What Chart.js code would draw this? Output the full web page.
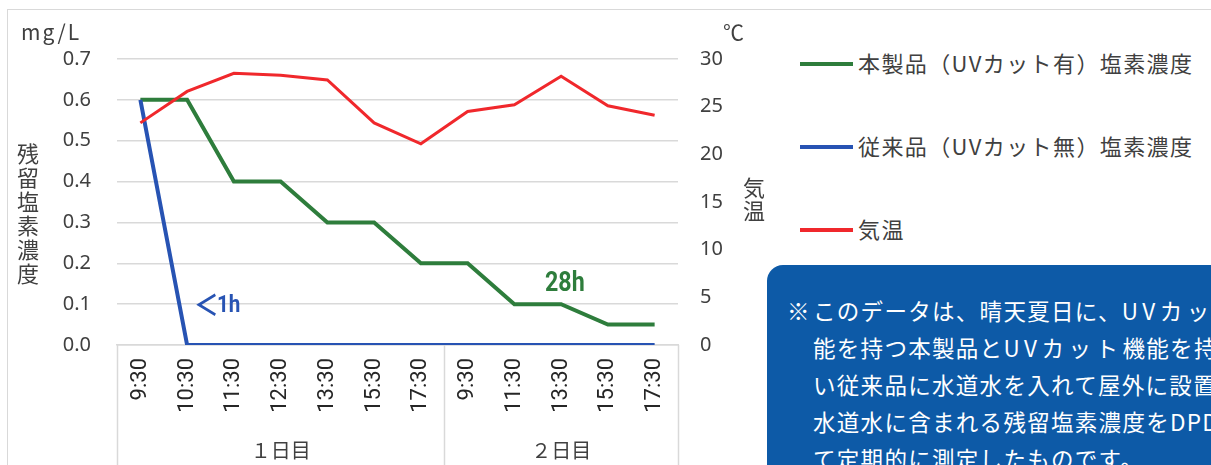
<!DOCTYPE html>
<html><head><meta charset="utf-8">
<script src="https://cdn.jsdelivr.net/npm/chart.js@4"></script>
<style>
html,body{margin:0;padding:0;background:#fff;width:1211px;height:465px;overflow:hidden;position:relative;font-family:"Noto Sans CJK JP","Noto Sans",sans-serif;color:#404040;}
#frame{position:absolute;left:7px;top:9px;width:1300px;height:600px;border:1.5px solid #d9d9d9;box-sizing:border-box;}
#wrap{position:absolute;left:0;top:0;width:760px;height:465px;}
.vt{position:absolute;writing-mode:vertical-rl;text-orientation:upright;font-size:22px;line-height:22px;color:#404040;}
.unit{position:absolute;font-size:21px;line-height:24px;color:#404040;}
#legend{position:absolute;left:800px;top:0;}
.li{position:absolute;left:0;white-space:nowrap;font-size:22px;letter-spacing:1.4px;line-height:30px;color:#404040;}
.li span.s{display:inline-block;width:53px;height:4.5px;vertical-align:middle;margin-right:5px;position:relative;top:-2px;}
#note{position:absolute;left:767px;top:265px;width:600px;height:300px;background:#0d5aa7;border-radius:16px;color:#fff;font-size:22.5px;letter-spacing:1.3px;line-height:37px;padding-top:27px;box-sizing:border-box;white-space:nowrap;}
#note div{padding-left:46px;}
#note div.first{padding-left:20px;}
#note .m{display:inline-block;width:26px;letter-spacing:0;}
#note .k{letter-spacing:4.5px;}
</style></head>
<body>
<div id="frame"></div>
<div id="wrap"><canvas id="c" width="760" height="465"></canvas></div>
<div class="unit" style="left:21px;top:19px;letter-spacing:2px;">mg/L</div>
<div class="unit" style="left:723px;top:19px;">℃</div>
<div class="vt" style="left:17px;top:143px;letter-spacing:2px;">残留塩素濃度</div>
<div class="vt" style="left:743px;top:177px;letter-spacing:1px;">気温</div>
<div id="legend"></div>
<div id="note">
<div class="first"><span class="m">※</span>このデータは、晴天夏日に、<span class="k">UVカット</span>機</div>
<div>能を持つ本製品と<span class="k">UVカット</span>機能を持たな</div>
<div>い従来品に水道水を入れて屋外に設置し、</div>
<div>水道水に含まれる残留塩素濃度をDPD法に</div>
<div>て定期的に測定したものです。</div>
</div>
<script>
const categories = ['9:30','10:30','11:30','12:30','13:30','15:30','17:30','9:30','11:30','13:30','15:30','17:30'];
const dayGroups = ['１日目','２日目'];
const dayCounts = [7,5];
const productChlorine = [0.6,0.6,0.4,0.4,0.3,0.3,0.2,0.2,0.1,0.1,0.05,0.05];
const conventionalChlorine = [0.6,0,0,0,0,0,0,0,0,0,0,0];
const airTemp = [23.3,26.6,28.5,28.3,27.8,23.3,21.1,24.5,25.2,28.2,25.1,24.1];
const seriesNames = ['本製品（UVカット有）塩素濃度','従来品（UVカット無）塩素濃度','気温'];
const seriesColors = ['#2e7d3c','#2753b3','#f0282c'];
const chlorineTicks = {min:0,max:0.7,step:0.1};
const tempTicks = {min:0,max:30,step:5};
const annotations = [
  {prefix:'＜', text:'1h', x:1.66, y:0.099, color:seriesColors[1], size:24},
  {prefix:'', text:'28h', x:9.08, y:0.152, color:seriesColors[0], size:27}
];

// legend
const lg = document.getElementById('legend');
const legendTops = [47,130,213];
seriesNames.forEach((n,i)=>{
  const d=document.createElement('div');d.className='li';d.style.top=legendTops[i]+'px';
  d.innerHTML='<span class="s" style="background:'+seriesColors[i]+'"></span>'+n;
  lg.appendChild(d);
});

const gridColor='#d9d9d9';
const extras = {
  id:'extras',
  afterDraw(chart){
    const ctx=chart.ctx, x=chart.scales.x, y=chart.scales.y;
    ctx.save();
    ctx.strokeStyle=gridColor; ctx.lineWidth=1.5;
    let idx=0; const bounds=[-0.5];
    dayCounts.forEach(c=>{idx+=c;bounds.push(idx-0.5);});
    bounds.forEach(b=>{
      const px=Math.round(x.getPixelForValue(b))+0.5;
      ctx.beginPath();ctx.moveTo(px,x.top);ctx.lineTo(px,chart.height);ctx.stroke();
    });
    ctx.fillStyle='#404040';ctx.font='20px "Noto Sans CJK JP"';ctx.textAlign='center';ctx.textBaseline='middle';
    dayGroups.forEach((g,i)=>{
      const cx=(x.getPixelForValue(bounds[i])+x.getPixelForValue(bounds[i+1]))/2;
      ctx.fillText(g,cx,450);
    });
    annotations.forEach(a=>{
      const px=x.getPixelForValue(a.x), py=y.getPixelForValue(a.y);
      ctx.save();ctx.translate(px,py);ctx.scale(0.86,1);
      ctx.fillStyle=a.color;ctx.textBaseline='middle';ctx.textAlign='left';
      const pf='bold '+(a.size+5)+'px "Noto Sans CJK JP"';
      const tf='bold '+a.size+'px Roboto';
      ctx.font=pf;const w1=a.prefix?ctx.measureText(a.prefix).width-4:0;
      ctx.font=tf;const w2=ctx.measureText(a.text).width;
      const start=-(w1+w2)/2;
      if(a.prefix){ctx.font=pf;ctx.fillText(a.prefix,start-2,0);}
      ctx.font=tf;ctx.fillText(a.text,start+w1,1);
      ctx.restore();
    });
    ctx.restore();
  }
};

new Chart(document.getElementById('c'),{
  type:'line',
  data:{labels:categories,datasets:[
    {label:seriesNames[0],data:productChlorine,borderColor:seriesColors[0],borderWidth:4,yAxisID:'y',order:2},
    {label:seriesNames[1],data:conventionalChlorine,borderColor:seriesColors[1],borderWidth:4,yAxisID:'y',order:1},
    {label:seriesNames[2],data:airTemp,borderColor:seriesColors[2],borderWidth:3,yAxisID:'y1',order:0}
  ]},
  options:{
    responsive:false,animation:false,
    layout:{padding:{top:59,left:0,right:0,bottom:0}},
    elements:{point:{radius:0},line:{tension:0,borderJoinStyle:'miter',borderCapStyle:'butt'}},
    plugins:{legend:{display:false},tooltip:{enabled:false}},
    scales:{
      x:{offset:true,grid:{display:false,drawTicks:false},border:{display:true,color:gridColor,width:1.5},
        ticks:{autoSkip:false,maxRotation:90,minRotation:90,padding:13,color:'#262626',font:{family:'Roboto',size:22}},
        afterFit(s){s.height=120;}},
      y:{position:'left',min:chlorineTicks.min,max:chlorineTicks.max,
        grid:{color:gridColor,lineWidth:1.5,drawTicks:false},border:{display:false},
        ticks:{stepSize:chlorineTicks.step,padding:26,color:'#404040',font:{family:'"Noto Sans"',size:20},callback:v=>v.toFixed(1)},
        afterFit(s){s.width=117;}},
      y1:{position:'right',min:tempTicks.min,max:tempTicks.max,
        grid:{display:false,drawTicks:false},border:{display:false},
        ticks:{stepSize:tempTicks.step,padding:22,color:'#404040',font:{family:'"Noto Sans"',size:20}},
        afterFit(s){s.width=82;}}
    }
  },
  plugins:[extras]
});
</script>
</body></html>
